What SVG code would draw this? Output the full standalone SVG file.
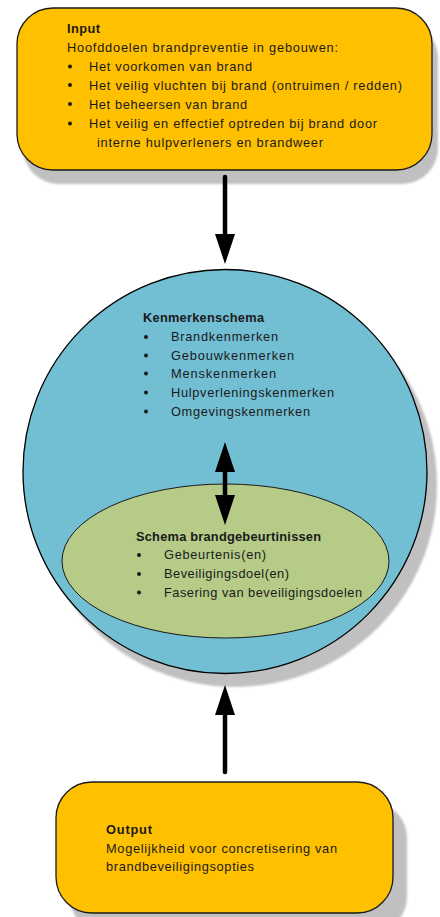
<svg xmlns="http://www.w3.org/2000/svg" width="440" height="917" viewBox="0 0 440 917">
<defs>
<style>
.t{font-family:"Liberation Sans",Arial,sans-serif;font-size:12.8px;fill:#1a1a1a}
.b{font-weight:bold}
.sh{fill:#c0c0c0}
.box{fill:#FFC000;stroke:#1a1a1a;stroke-width:1.3}
.con{stroke:#000;stroke-width:4.5;fill:none;stroke-linecap:round}
</style>
<filter id="blur" x="-10%" y="-10%" width="120%" height="120%"><feGaussianBlur stdDeviation="1"/></filter>
<marker id="ah" viewBox="0 0 30 20" refX="0" refY="10" markerWidth="30" markerHeight="20" markerUnits="userSpaceOnUse" orient="auto-start-reverse">
<path d="M0,0 L30,10 L0,20 z" fill="#000"/>
</marker>
</defs>
<rect width="440" height="917" fill="#fff"/>

<g id="input">
<rect class="sh" filter="url(#blur)" x="23" y="22" width="415" height="162" rx="36"/>
<rect class="box" x="17" y="8" width="415" height="162" rx="36"/>
<text class="t b" x="67" y="33" textLength="33" lengthAdjust="spacing">Input</text>
<text class="t" x="67" y="52" textLength="271" lengthAdjust="spacing">Hoofddoelen brandpreventie in gebouwen:</text>
<g fill="#1a1a1a"><circle cx="70" cy="66.5" r="2"/><circle cx="70" cy="85" r="2"/><circle cx="70" cy="104" r="2"/><circle cx="70" cy="123.5" r="2"/></g>
<text class="t" x="89" y="71" textLength="163" lengthAdjust="spacing">Het voorkomen van brand</text>
<text class="t" x="89" y="89.5" textLength="313" lengthAdjust="spacing">Het veilig vluchten bij brand (ontruimen / redden)</text>
<text class="t" x="89" y="108.5" textLength="158" lengthAdjust="spacing">Het beheersen van brand</text>
<text class="t" x="89" y="128" textLength="288" lengthAdjust="spacing">Het veilig en effectief optreden bij brand door</text>
<text class="t" x="97" y="147" textLength="226" lengthAdjust="spacing">interne hulpverleners en brandweer</text>
</g>

<g id="kenmerkenschema">
<circle class="sh" filter="url(#blur)" cx="235" cy="485" r="202"/>
<circle cx="225" cy="471.5" r="202" fill="#72BED3" stroke="#000" stroke-width="1.3"/>
<text class="t b" x="143" y="322" textLength="121" lengthAdjust="spacing">Kenmerkenschema</text>
<g fill="#1a1a1a"><circle cx="146" cy="337" r="2"/><circle cx="146" cy="355.5" r="2"/><circle cx="146" cy="373.5" r="2"/><circle cx="146" cy="392.5" r="2"/><circle cx="146" cy="411.5" r="2"/></g>
<text class="t" x="171" y="341" textLength="107" lengthAdjust="spacing">Brandkenmerken</text>
<text class="t" x="171" y="359.5" textLength="123" lengthAdjust="spacing">Gebouwkenmerken</text>
<text class="t" x="171" y="377.5" textLength="105" lengthAdjust="spacing">Menskenmerken</text>
<text class="t" x="171" y="396.5" textLength="163" lengthAdjust="spacing">Hulpverleningskenmerken</text>
<text class="t" x="171" y="415.5" textLength="139" lengthAdjust="spacing">Omgevingskenmerken</text>
</g>

<g id="brandgebeurtenissen">
<ellipse cx="225.5" cy="561" rx="163.5" ry="77" fill="#B5CB87" stroke="#1a1a1a" stroke-width="1"/>
<text class="t b" x="136" y="540.5" textLength="185" lengthAdjust="spacing">Schema brandgebeurtinissen</text>
<g fill="#1a1a1a"><circle cx="139" cy="555" r="2"/><circle cx="139" cy="574" r="2"/><circle cx="139" cy="592.5" r="2"/></g>
<text class="t" x="164" y="559" textLength="102" lengthAdjust="spacing">Gebeurtenis(en)</text>
<text class="t" x="164" y="578" textLength="125" lengthAdjust="spacing">Beveiligingsdoel(en)</text>
<text class="t" x="164" y="596.5" textLength="198" lengthAdjust="spacing">Fasering van beveiligingsdoelen</text>
</g>

<g id="output">
<rect class="sh" filter="url(#blur)" x="70" y="802" width="337" height="131" rx="36"/>
<rect class="box" x="56" y="782" width="337" height="131" rx="36"/>
<text class="t b" x="106" y="833.5" textLength="46" lengthAdjust="spacing">Output</text>
<text class="t" x="106" y="852.5" textLength="231" lengthAdjust="spacing">Mogelijkheid voor concretisering van</text>
<text class="t" x="106" y="871" textLength="148" lengthAdjust="spacing">brandbeveiligingsopties</text>
</g>

<g id="connectors">
<path class="con" d="M225,177 L225,234" marker-end="url(#ah)"/>
<path class="con" d="M225,472 L225,495" marker-start="url(#ah)" marker-end="url(#ah)" stroke-linecap="butt"/>
<path class="con" d="M225,772 L225,715" marker-end="url(#ah)"/>
</g>
</svg>
